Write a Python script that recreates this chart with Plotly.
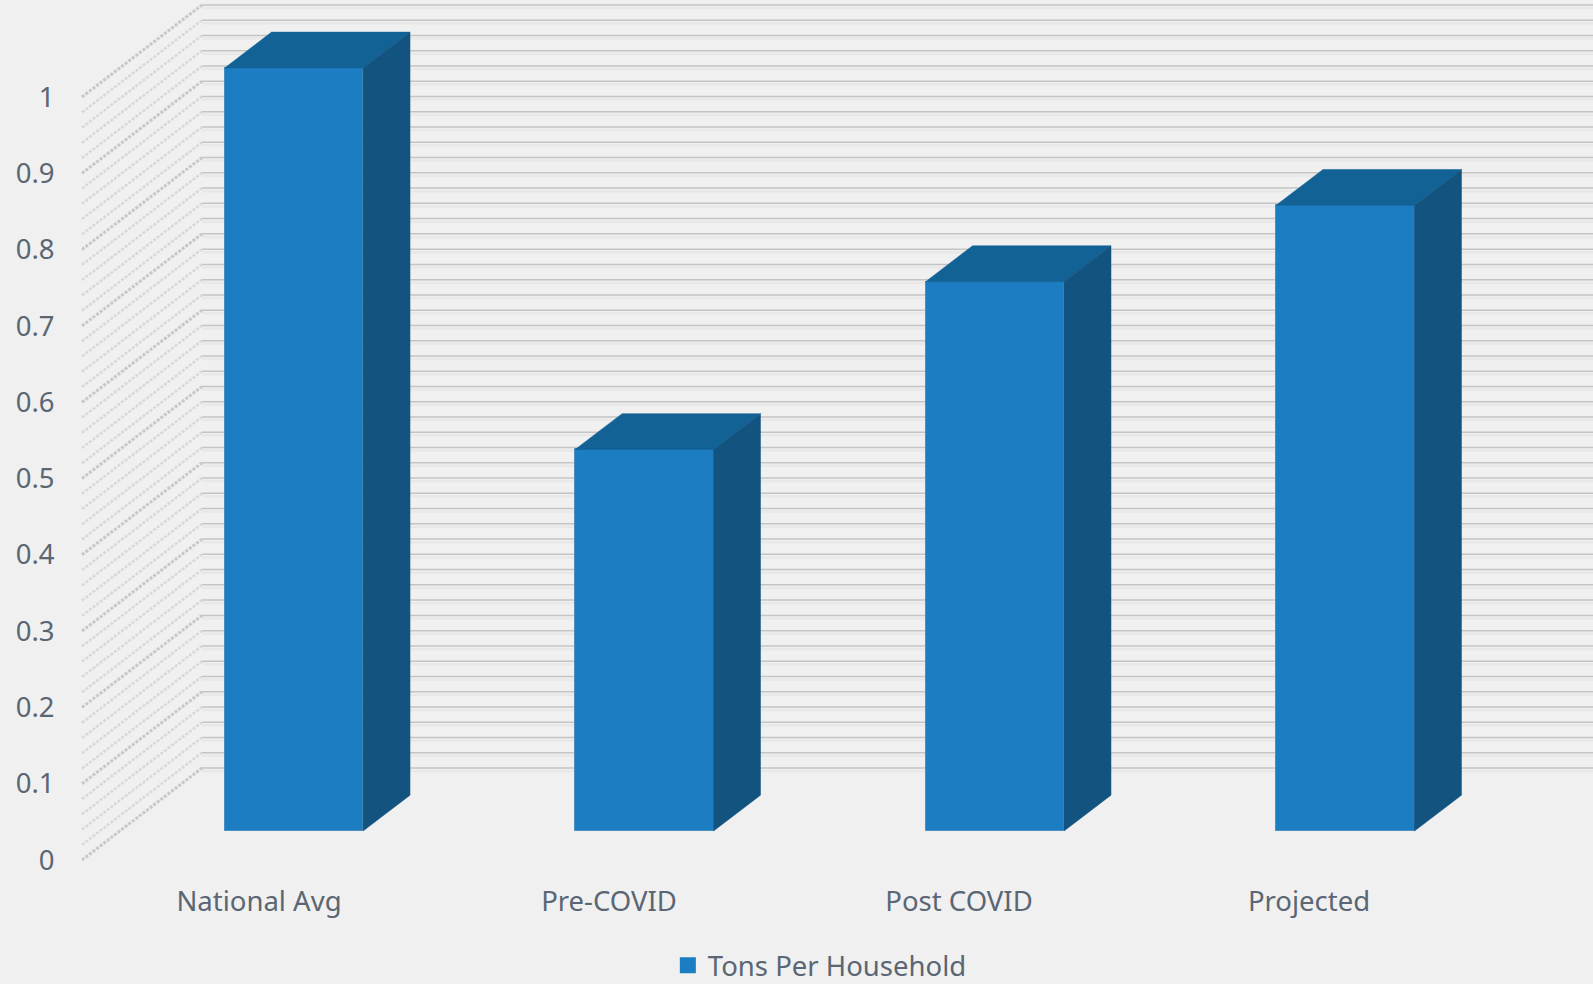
import plotly.graph_objects as go

# ---- data ----
categories = ["National Avg", "Pre-COVID", "Post COVID", "Projected"]
tons_per_household = [1.0, 0.5, 0.72, 0.82]
y_tick_values = [0, 0.1, 0.2, 0.3, 0.4, 0.5, 0.6, 0.7, 0.8, 0.9, 1]
y_tick_labels = ["0", "0.1", "0.2", "0.3", "0.4", "0.5", "0.6", "0.7", "0.8", "0.9", "1"]
series_name = "Tons Per Household"

# ---- styling ----
BG = "#f0f0f0"
FRONT = "#1c7dc3"
TOP = "#136296"
SIDE = "#135380"
TEXT = "#5a6673"
FONT = "Noto Sans"
FS = 27.5

# ---- pseudo-3D geometry, in axis units ----
BAR_W = 0.395
BAR_DX, BAR_DY = 0.134, 0.047          # depth of a bar
WALL_X0, WALL_X1, WALL_X2 = -0.5057, -0.1629, 3.8114  # wall front, wall back, back wall end
WALL_DY = 0.1206                       # rise of the side wall
grid_steps = list(range(0, 51))        # gridlines each 0.02

fig = go.Figure()


def seg_trace(xs, ys, color, width, dash="solid"):
    return go.Scatter(x=xs, y=ys, mode="lines", showlegend=False, hoverinfo="skip",
                      line=dict(color=color, width=width, dash=dash))


# back wall and side wall grid, on the lower axes
bx, by, bx2, by2, sx, sy, sx2, sy2 = [], [], [], [], [], [], [], []
for s in grid_steps:
    v = s * 0.02
    bx += [WALL_X1, WALL_X2, None]
    by += [v + WALL_DY, v + WALL_DY, None]
    bx2 += [WALL_X1, WALL_X2, None]
    by2 += [v + WALL_DY - 0.004, v + WALL_DY - 0.004, None]
    if s % 5 == 0:
        sx2 += [WALL_X0, WALL_X1, None]
        sy2 += [v, v + WALL_DY, None]
    else:
        sx += [WALL_X0, WALL_X1, None]
        sy += [v, v + WALL_DY, None]
fig.add_trace(seg_trace(bx2, by2, "#e8e8e8", 2.5))
fig.add_trace(seg_trace(bx, by, "#c4c4c4", 1.5))
fig.add_trace(seg_trace(sx, sy, "#d8d8d8", 2.5, "3px,1.5px"))
fig.add_trace(seg_trace(sx2, sy2, "#c8c8c8", 3, "3px,1.5px"))

# the front faces: real bars on the overlaying axes
fig.add_trace(go.Bar(x=list(range(len(categories))), y=tons_per_household, width=BAR_W,
                     name=series_name, showlegend=False,
                     marker=dict(color=FRONT, line=dict(color="#4a8fc0", width=1)),
                     xaxis="x2", yaxis="y2", hovertemplate="%{y}<extra></extra>"))

# legend key only, larger than the key a bar trace gets
fig.add_trace(go.Scatter(x=[None], y=[None], mode="markers", name=series_name,
                         marker=dict(symbol="square", size=17, color=FRONT),
                         xaxis="x2", yaxis="y2", hoverinfo="skip"))

# top and side faces derived from the values
for i, v in enumerate(tons_per_household):
    l, r = i - BAR_W / 2, i + BAR_W / 2
    fig.add_trace(go.Scatter(x=[l, r, r + BAR_DX, l + BAR_DX, l], y=[v, v, v + BAR_DY, v + BAR_DY, v],
                             fill="toself", fillcolor=TOP, mode="lines", line=dict(color=TOP, width=0.5),
                             showlegend=False, hoverinfo="skip", xaxis="x2", yaxis="y2"))
    fig.add_trace(go.Scatter(x=[r, r + BAR_DX, r + BAR_DX, r, r], y=[0, BAR_DY, v + BAR_DY, v, 0],
                             fill="toself", fillcolor=SIDE, mode="lines", line=dict(color=SIDE, width=0.5),
                             showlegend=False, hoverinfo="skip", xaxis="x2", yaxis="y2"))

fig.update_layout(
    width=1593, height=984,
    margin=dict(l=62, r=0, t=0, b=108, autoexpand=False),
    paper_bgcolor=BG, plot_bgcolor=BG,
    font=dict(family=FONT, size=FS, color=TEXT),
    bargap=0,
    xaxis=dict(range=[-0.5629, 3.8114], tickmode="array", tickvals=list(range(len(categories))),
               ticktext=categories, showgrid=False, zeroline=False, showline=False,
               ticks="outside", ticklen=1, tickcolor="rgba(0,0,0,0)", fixedrange=True,
               tickfont=dict(family=FONT, size=FS, color=TEXT)),
    yaxis=dict(range=[-0.02097, 1.1271], tickmode="array", tickvals=y_tick_values,
               ticktext=y_tick_labels, showgrid=False, zeroline=False, showline=False,
               ticks="outside", ticklen=1, tickcolor="rgba(0,0,0,0)", fixedrange=True,
               tickfont=dict(family=FONT, size=FS, color=TEXT)),
    xaxis2=dict(range=[-0.6615, 3.7068], overlaying="x", visible=False, fixedrange=True),
    yaxis2=dict(range=[-0.05898, 1.0891], overlaying="y", visible=False, fixedrange=True),
    showlegend=True,
    legend=dict(orientation="h", x=0.495, xanchor="center", y=-0.102, yanchor="middle",
                itemsizing="trace", bgcolor="rgba(0,0,0,0)",
                font=dict(family=FONT, size=FS, color=TEXT)),
)

fig.write_html("out.html", config={"displayModeBar": False},
               post_script="document.body.style.margin='0';document.documentElement.style.overflow='hidden';")
